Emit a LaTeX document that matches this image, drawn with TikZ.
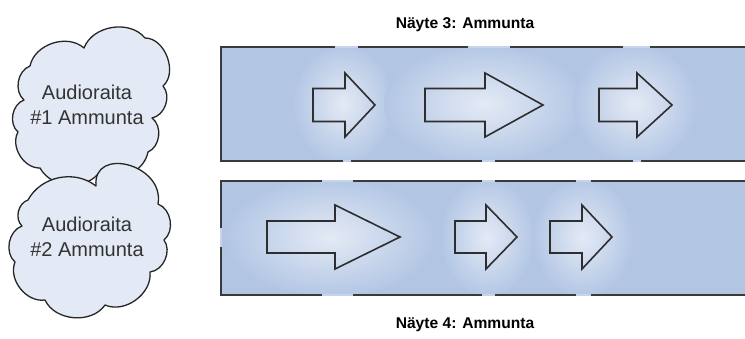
\documentclass[tikz,border=0pt]{standalone}
\usepackage{fontspec}
\setmainfont{Liberation Sans}
\begin{document}
\begin{tikzpicture}[x=1pt,y=-1pt,
  band/.style={fill=bandblue},
  glow/.style={inner color=glowc,outer color=bandblue},
  border/.style={draw=borderc,line width=1.8pt},
  gap/.style={draw=gapc,line width=1.8pt},
  arrowshape/.style={draw=arrowc,line width=1.6pt,line join=miter},
  cloudshape/.style={draw=cloudline,fill=cloudfill,line width=1.3pt,line join=round},
  cloudtext/.style={align=center,text=textc,font=\fontsize{20}{25}\selectfont},
  title/.style={anchor=base,font=\fontsize{15.6}{18}\selectfont\bfseries}]
\definecolor{bandblue}{HTML}{B2C6E4}
\definecolor{glowc}{HTML}{E4EAF5}
\definecolor{borderc}{HTML}{3A3A3A}
\definecolor{gapc}{HTML}{C6D4EB}
\definecolor{arrowc}{HTML}{2E2E2E}
\definecolor{cloudline}{HTML}{262626}
\definecolor{cloudfill}{HTML}{E3EAF5}
\definecolor{textc}{HTML}{333333}
\clip (0,0) rectangle (745,338);
\useasboundingbox (0,0) rectangle (745,338);

% ---- top band
\fill[band] (221,47) rectangle (760,161);
\begin{scope}
\clip (221,47) rectangle (760,161);
\shade[glow] (343,104) ellipse [x radius=50,y radius=60];
\shade[glow] (484,104) ellipse [x radius=100,y radius=60];
\shade[glow] (635,104) ellipse [x radius=62,y radius=60];
\end{scope}
\draw[border] (335,47) -- (221,47) -- (221,161) -- (343,161);
\draw[border] (358,47) -- (468,47);
\draw[border] (510,47) -- (623,47);
\draw[border] (650,47) -- (760,47);
\draw[border] (351,161) -- (482,161);
\draw[border] (495,161) -- (633,161);
\draw[border] (641,161) -- (760,161);
\draw[gap] (335,47) -- (358,47);
\draw[gap] (468,47) -- (510,47);
\draw[gap] (623,47) -- (650,47);
\draw[gap] (343,161) -- (351,161);
\draw[gap] (482,161) -- (495,161);
\draw[gap] (633,161) -- (641,161);

% arrows top (tail, head base, tip), centre y 105
\draw[arrowshape] (313,88.5) -- (345,88.5) -- (345,73) -- (375,105) -- (345,137) -- (345,121.5) -- (313,121.5) -- cycle;
\draw[arrowshape] (425,88.5) -- (485,88.5) -- (485,73) -- (543,105) -- (485,137) -- (485,121.5) -- (425,121.5) -- cycle;
\draw[arrowshape] (599,88.5) -- (637,88.5) -- (637,73) -- (672,105) -- (637,137) -- (637,121.5) -- (599,121.5) -- cycle;

% ---- bottom band
\fill[band] (221,181) rectangle (760,295);
\begin{scope}
\clip (221,181) rectangle (760,295);
\shade[glow] (330,237) ellipse [x radius=105,y radius=60];
\shade[glow] (487,237) ellipse [x radius=47,y radius=60];
\shade[glow] (583,237) ellipse [x radius=50,y radius=60];
\end{scope}
\draw[border] (221,228) -- (221,181) -- (322,181);
\draw[border] (221,247) -- (221,295) -- (322,295);
\draw[border] (353,181) -- (482,181);
\draw[border] (495,181) -- (576,181);
\draw[border] (591,181) -- (760,181);
\draw[border] (353,295) -- (482,295);
\draw[border] (495,295) -- (576,295);
\draw[border] (591,295) -- (760,295);
\draw[gap] (221,228) -- (221,247);
\draw[gap] (322,181) -- (353,181);
\draw[gap] (482,181) -- (495,181);
\draw[gap] (576,181) -- (591,181);
\draw[gap] (322,295) -- (353,295);
\draw[gap] (482,295) -- (495,295);
\draw[gap] (576,295) -- (591,295);

% arrows bottom, centre y 237
\draw[arrowshape] (267,221) -- (335,221) -- (335,205) -- (400,237) -- (335,269) -- (335,253) -- (267,253) -- cycle;
\draw[arrowshape] (455,221) -- (486,221) -- (486,205) -- (517,237) -- (486,269) -- (486,253) -- (455,253) -- cycle;
\draw[arrowshape] (550,221) -- (582,221) -- (582,205) -- (612,237) -- (582,269) -- (582,253) -- (550,253) -- cycle;

% ---- titles
\node[title] (t3) at (465,28) {Näyte 3: Ammunta};
\node[title] (t4) at (465,328) {Näyte 4: Ammunta};

% ---- clouds
\draw[cloudshape] (30,66) to[bend left=60] (84,48) to[bend left=60] (145,38)
  to[bend left=70] (163,86) to[bend left=60] (152,118) to[bend left=60] (148,152)
  to[bend left=55] (98,174) to[bend left=55] (40,168) to[bend left=60] (18,132)
  to[bend left=60] (24,100) to[bend left=60] cycle;
\draw[cloudshape] (28,200) to[bend left=50] (96,186)
  to[out=95,in=80,looseness=1.6] (158,204) to[bend left=60] (164,240)
  to[bend left=60] (150,272) to[bend left=60] (105,305) to[bend left=60] (45,300)
  to[bend left=60] (15,262) to[bend left=60] (22,226) to[bend left=60] cycle;
\node[cloudtext] (c1) at (87,105) {Audioraita\\\#1 Ammunta};
\node[cloudtext] (c2) at (87,237) {Audioraita\\\#2 Ammunta};
\end{tikzpicture}
\end{document}
